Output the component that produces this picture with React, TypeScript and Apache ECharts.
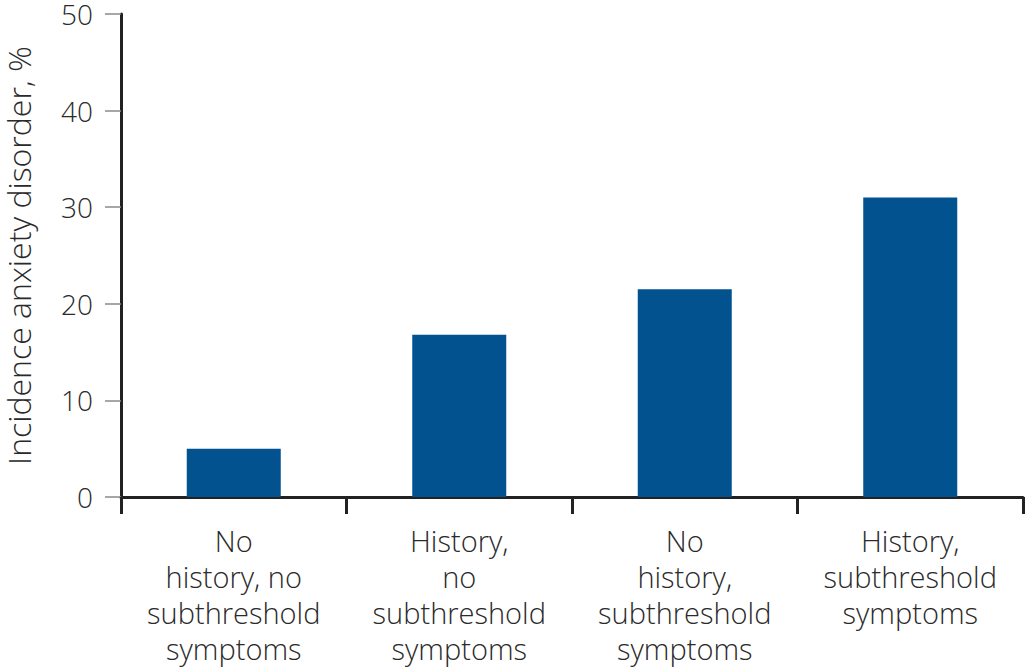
import React, { useEffect, useRef } from "react";
import * as echarts from "echarts";

const categories: string[] = [
  "No\nhistory, no\nsubthreshold\nsymptoms",
  "History,\nno\nsubthreshold\nsymptoms",
  "No\nhistory,\nsubthreshold\nsymptoms",
  "History,\nsubthreshold\nsymptoms",
];
const incidence: number[] = [5.0, 16.8, 21.5, 31.0];
const yTicks = { min: 0, max: 50, interval: 10 };
const yAxisTitle = "Incidence anxiety disorder, %";

const FONT = "'Open Sans', 'Noto Sans', 'DejaVu Sans', sans-serif";

export default function App() {
  const ref = useRef<HTMLDivElement>(null);
  useEffect(() => {
    if (!ref.current) return;
    const chart = echarts.init(ref.current, null, { renderer: "svg" });
    chart.setOption({
      animation: false,
      backgroundColor: "#ffffff",
      grid: { left: 121, right: 3, top: 14, bottom: 171, containLabel: false, outerBoundsMode: "none" },
      xAxis: {
        type: "category",
        data: categories,
        axisLine: { show: true, lineStyle: { color: "#222222", width: 3 } },
        axisTick: { show: true, length: 17, alignWithLabel: false, lineStyle: { color: "#222222", width: 3 } },
        axisLabel: {
          interval: 0,
          margin: 25,
          fontSize: 29,
          lineHeight: 36,
          fontWeight: 300,
          color: "#2a2a2a",
          fontFamily: FONT,
          align: "center",
        },
        splitLine: { show: false },
      },
      yAxis: {
        type: "value",
        min: yTicks.min,
        max: yTicks.max,
        interval: yTicks.interval,
        name: yAxisTitle,
        nameLocation: "middle",
        nameGap: 86,
        nameTextStyle: { fontSize: 32, lineHeight: 34, fontWeight: 300, color: "#2a2a2a", fontFamily: FONT },
        axisLine: { show: true, lineStyle: { color: "#222222", width: 3 } },
        axisTick: { show: true, length: 16, lineStyle: { color: "#8a8a8a", width: 1.5 } },
        axisLabel: { margin: 28, fontSize: 28, lineHeight: 22, fontWeight: 300, color: "#2a2a2a", fontFamily: FONT },
        splitLine: { show: false },
      },
      series: [
        {
          type: "bar",
          data: incidence,
          barWidth: 94,
          itemStyle: { color: "#02528f" },
          z: 1,
        },
      ],
    });
    return () => chart.dispose();
  }, []);
  return (
    <div
      ref={ref}
      style={{ position: "fixed", left: 0, top: 0, width: 1026, height: 668 }}
    />
  );
}
